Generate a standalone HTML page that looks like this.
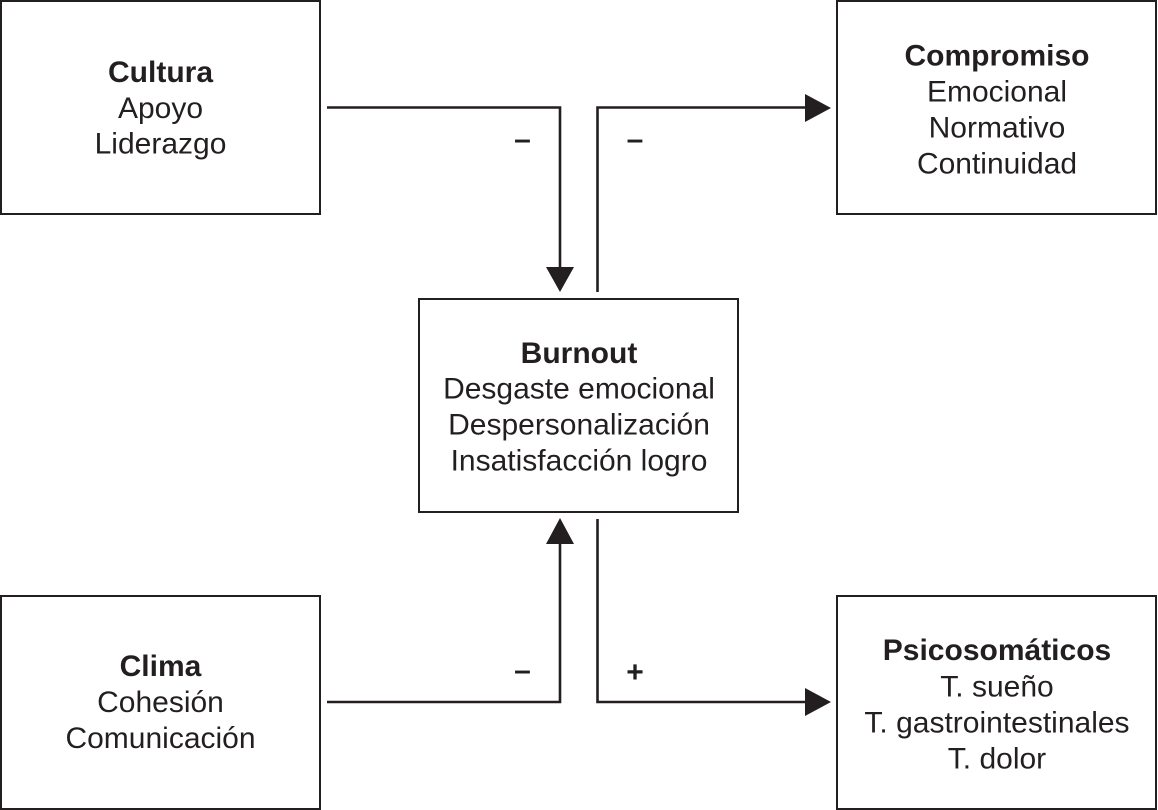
<!DOCTYPE html>
<html>
<head>
<meta charset="utf-8">
<style>
html,body{margin:0;padding:0;background:#fff;}
svg{display:block;}
text{font-family:"Liberation Sans",Arial,sans-serif;font-size:30px;fill:#231f20;text-anchor:middle;}
text.b{font-weight:bold;}
rect{fill:#fff;stroke:#231f20;stroke-width:2;}
.l{fill:none;stroke:#231f20;stroke-width:2.6;}
.a{fill:#231f20;stroke:none;}
</style>
</head>
<body>
<svg width="1158" height="810" viewBox="0 0 1158 810" xmlns="http://www.w3.org/2000/svg">
<rect x="1" y="1" width="319" height="213"/>
<rect x="837" y="1" width="319" height="213"/>
<rect x="419" y="299" width="319" height="213"/>
<rect x="1" y="596" width="319" height="213"/>
<rect x="837" y="596" width="319" height="213"/>

<path class="l" d="M327 107.500H560V270"/>
<polygon class="a" points="546,267 574,267 560,292"/>
<path class="l" d="M597.500 292V107.500H808"/>
<polygon class="a" points="805,94 805,122 831,108"/>
<path class="l" d="M327 702H560V540"/>
<polygon class="a" points="546,544 574,544 560,518"/>
<path class="l" d="M597.500 519V702H808"/>
<polygon class="a" points="805,688 805,716 831,702"/>

<text class="b" x="160.500" y="81.800">Cultura</text>
<text x="160.500" y="117.800">Apoyo</text>
<text x="160.500" y="153.600">Liderazgo</text>

<text class="b" x="997" y="65.500">Compromiso</text>
<text x="997" y="101.500">Emocional</text>
<text x="997" y="137.500">Normativo</text>
<text x="997" y="173.500">Continuidad</text>

<text class="b" x="579" y="362.800">Burnout</text>
<text x="579" y="398.600">Desgaste emocional</text>
<text x="579" y="434.600">Despersonalización</text>
<text x="579" y="470.600">Insatisfacción logro</text>

<text class="b" x="160.500" y="676">Clima</text>
<text x="160.500" y="712">Cohesión</text>
<text x="160.500" y="748">Comunicación</text>

<text class="b" x="997" y="659.800">Psicosomáticos</text>
<text x="997" y="696.500">T. sueño</text>
<text x="997" y="732.500">T. gastrointestinales</text>
<text x="997" y="768.500">T. dolor</text>

<text class="b" x="522.500" y="149">–</text>
<text class="b" x="635" y="149">–</text>
<text class="b" x="522.500" y="680">–</text>
<text class="b" x="635" y="682">+</text>
</svg>
</body>
</html>
